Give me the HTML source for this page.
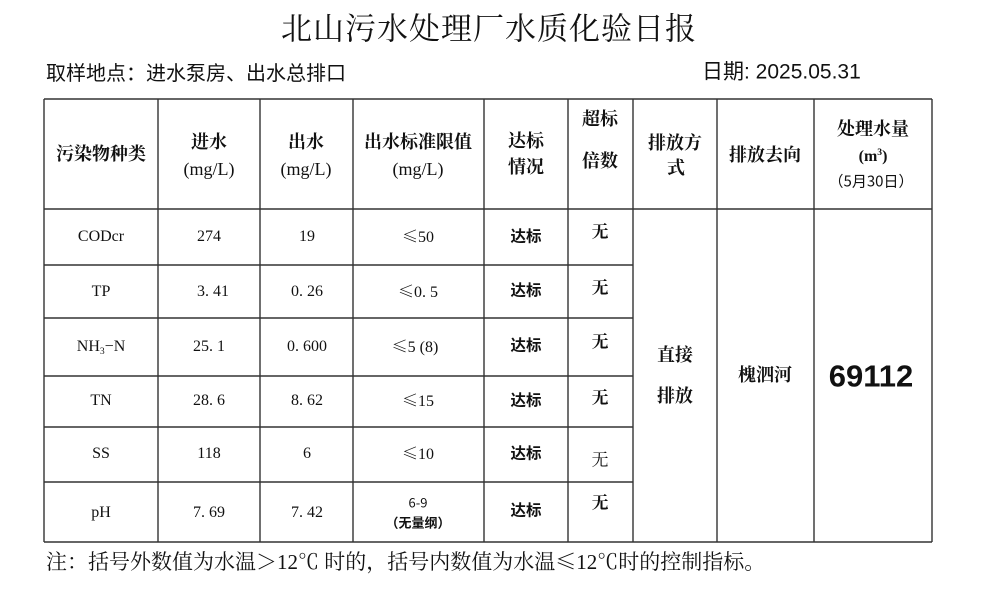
<!DOCTYPE html>
<html><head><meta charset="utf-8">
<style>
html,body{margin:0;padding:0;background:#fff;}
body{width:999px;height:614px;position:relative;overflow:hidden;color:#111;}
.c{position:absolute;transform:translate(-50%,-50%);white-space:nowrap;line-height:1;}
.l{position:absolute;transform:translateY(-50%);white-space:nowrap;line-height:1;}
.serif{font-family:"Liberation Serif","Noto Serif CJK SC",serif;}
.cjks{font-family:"Noto Serif CJK SC","Liberation Serif",serif;}
.sans{font-family:"Liberation Sans","Noto Sans CJK SC",sans-serif;}
.h{font-family:"Liberation Serif","Noto Serif CJK SC",serif;font-size:18px;font-weight:bold;}
.hn{font-family:"Liberation Serif","Noto Serif CJK SC",serif;font-size:18px;}
.d{font-family:"Liberation Serif","Noto Serif CJK SC",serif;font-size:16px;}
.dot{padding-right:4px;}
.db{font-family:"Noto Sans CJK SC","Liberation Sans",sans-serif;font-size:15.5px;font-weight:bold;}
.wu{font-family:"Noto Serif CJK SC",serif;font-size:17px;font-weight:bold;}
.le{font-family:"Noto Serif CJK SC",serif;}
sub{font-size:60%;vertical-align:-3px;line-height:0;}
sup{font-size:60%;vertical-align:6px;line-height:0;}
svg{position:absolute;left:0;top:0;}
</style></head><body>
<svg width="999" height="614" viewBox="0 0 999 614">
<g stroke="#333" stroke-width="1.4" fill="none">
<line x1="44" y1="99" x2="932" y2="99"/>
<line x1="44" y1="209" x2="932" y2="209"/>
<line x1="44" y1="265" x2="633" y2="265"/>
<line x1="44" y1="318" x2="633" y2="318"/>
<line x1="44" y1="376" x2="633" y2="376"/>
<line x1="44" y1="427" x2="633" y2="427"/>
<line x1="44" y1="482" x2="633" y2="482"/>
<line x1="44" y1="542" x2="932" y2="542"/>
<line x1="44" y1="99" x2="44" y2="542"/>
<line x1="158" y1="99" x2="158" y2="542"/>
<line x1="260" y1="99" x2="260" y2="542"/>
<line x1="353" y1="99" x2="353" y2="542"/>
<line x1="484" y1="99" x2="484" y2="542"/>
<line x1="568" y1="99" x2="568" y2="542"/>
<line x1="633" y1="99" x2="633" y2="542"/>
<line x1="717" y1="99" x2="717" y2="542"/>
<line x1="814" y1="99" x2="814" y2="542"/>
<line x1="932" y1="99" x2="932" y2="542"/>
</g>
</svg>

<div class="c cjks" style="left:489px;top:26px;font-size:31px;letter-spacing:1px;">北山污水处理厂水质化验日报</div>
<div class="l" style="left:46px;top:72px;font-size:20px;font-family:'Noto Sans CJK SC',sans-serif;">取样地点：进水泵房、出水总排口</div>
<div class="l sans" style="left:702px;top:72px;font-size:21px;">日期: 2025.05.31</div>

<!-- header -->
<div class="c h" style="left:101px;top:154px;">污染物种类</div>
<div class="c h" style="left:209px;top:142px;">进水</div>
<div class="c hn" style="left:209px;top:169px;">(mg/L)</div>
<div class="c h" style="left:306px;top:142px;">出水</div>
<div class="c hn" style="left:306px;top:169px;">(mg/L)</div>
<div class="c h" style="left:418px;top:142px;">出水标准限值</div>
<div class="c hn" style="left:418px;top:169px;">(mg/L)</div>
<div class="c h" style="left:526px;top:141px;">达标</div>
<div class="c h" style="left:526px;top:167px;">情况</div>
<div class="c h" style="left:600px;top:119px;">超标</div>
<div class="c h" style="left:600px;top:161px;">倍数</div>
<div class="c h" style="left:675px;top:143px;">排放方</div>
<div class="c h" style="left:676px;top:168px;">式</div>
<div class="c h" style="left:765px;top:155px;">排放去向</div>
<div class="c h" style="left:873px;top:129px;">处理水量</div>
<div class="c" style="left:873px;top:157px;font-family:'Liberation Serif',serif;font-size:16px;font-weight:bold;">(m<sup>3</sup>)</div>
<div class="c" style="left:871px;top:181px;font-family:'Noto Sans CJK SC',sans-serif;font-size:15px;">（5月30日）</div>

<!-- col 1 -->
<div class="c d" style="left:101px;top:237px;">CODcr</div>
<div class="c d" style="left:101px;top:292px;">TP</div>
<div class="c d" style="left:101px;top:347px;">NH<sub>3</sub>−N</div>
<div class="c d" style="left:101px;top:401px;">TN</div>
<div class="c d" style="left:101px;top:454px;">SS</div>
<div class="c d" style="left:101px;top:513px;">pH</div>

<!-- col 2 -->
<div class="c d" style="left:209px;top:237px;">274</div>
<div class="c d" style="left:213px;top:292px;">3<span class="dot">.</span>41</div>
<div class="c d" style="left:209px;top:347px;">25<span class="dot">.</span>1</div>
<div class="c d" style="left:209px;top:401px;">28<span class="dot">.</span>6</div>
<div class="c d" style="left:209px;top:454px;">118</div>
<div class="c d" style="left:209px;top:513px;">7<span class="dot">.</span>69</div>

<!-- col 3 -->
<div class="c d" style="left:307px;top:237px;">19</div>
<div class="c d" style="left:307px;top:292px;">0<span class="dot">.</span>26</div>
<div class="c d" style="left:307px;top:347px;">0<span class="dot">.</span>600</div>
<div class="c d" style="left:307px;top:401px;">8<span class="dot">.</span>62</div>
<div class="c d" style="left:307px;top:454px;">6</div>
<div class="c d" style="left:307px;top:513px;">7<span class="dot">.</span>42</div>

<!-- col 4 -->
<div class="c d" style="left:418px;top:237px;"><span class="le">≤</span>50</div>
<div class="c d" style="left:418px;top:292px;"><span class="le">≤</span>0<span class="dot">.</span>5</div>
<div class="c d" style="left:415px;top:347px;"><span class="le">≤</span>5 (8)</div>
<div class="c d" style="left:418px;top:401px;"><span class="le">≤</span>15</div>
<div class="c d" style="left:418px;top:454px;"><span class="le">≤</span>10</div>
<div class="c" style="left:418px;top:502px;font-family:'Noto Sans CJK SC',sans-serif;font-size:13px;">6-9</div>
<div class="c" style="left:418px;top:522px;font-family:'Noto Sans CJK SC',sans-serif;font-size:13px;font-weight:bold;">（无量纲）</div>

<!-- col 5 -->
<div class="c db" style="left:526px;top:236px;">达标</div>
<div class="c db" style="left:526px;top:290px;">达标</div>
<div class="c db" style="left:526px;top:345px;">达标</div>
<div class="c db" style="left:526px;top:400px;">达标</div>
<div class="c db" style="left:526px;top:453px;">达标</div>
<div class="c db" style="left:526px;top:510px;">达标</div>

<!-- col 6 -->
<div class="c wu" style="left:600px;top:230px;">无</div>
<div class="c wu" style="left:600px;top:286px;">无</div>
<div class="c wu" style="left:600px;top:340px;">无</div>
<div class="c wu" style="left:600px;top:396px;">无</div>
<div class="c wu" style="left:600px;top:458px;font-weight:normal;">无</div>
<div class="c wu" style="left:600px;top:501px;">无</div>

<!-- merged -->
<div class="c h" style="left:675px;top:355px;">直接</div>
<div class="c h" style="left:675px;top:396px;">排放</div>
<div class="c h" style="left:765px;top:375px;">槐泗河</div>
<div class="c" style="left:871px;top:376px;font-family:'Liberation Sans',sans-serif;font-size:31px;font-weight:bold;">69112</div>

<div class="l serif" style="left:46px;top:562px;font-size:21px;">注：括号外数值为水温＞12℃ 时的，括号内数值为水温<span class="le">≤</span>12℃时的控制指标。</div>
</body></html>
